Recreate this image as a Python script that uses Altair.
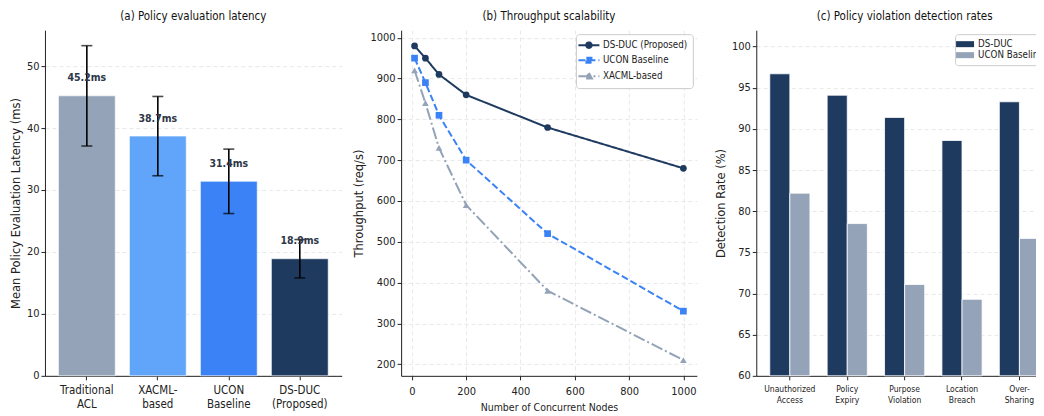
import altair as alt
import pandas as pd

# ---------------- data ----------------
# (a) Policy evaluation latency
lat_methods = ["Traditional\nACL", "XACML-\nbased", "UCON\nBaseline", "DS-DUC\n(Proposed)"]
lat_mean = [45.2, 38.7, 31.4, 18.9]
lat_err = [8.1, 6.4, 5.2, 3.1]

# (b) Throughput scalability
nodes = [10, 50, 100, 200, 500, 1000]
tp_series = ["DS-DUC (Proposed)", "UCON Baseline", "XACML-based"]
tp_dsduc = [980, 950, 910, 860, 780, 680]
tp_ucon = [950, 890, 810, 700, 520, 330]
tp_xacml = [920, 840, 730, 590, 380, 210]

# (c) Policy violation detection rates
violations = ["Unauthorized\nAccess", "Policy\nExpiry", "Purpose\nViolation",
              "Location\nBreach", "Over-\nSharing"]
det_series = ["DS-DUC", "UCON Baseline"]
det_dsduc = [96.7, 94.1, 91.4, 88.6, 93.3]
det_ucon = [82.2, 78.5, 71.1, 69.3, 76.7]

# ---------------- styles ----------------
NAVY = "#1e3a5f"
lat_colors = ["#94a3b8", "#60a5fa", "#3b82f6", NAVY]
tp_colors = [NAVY, "#3b82f6", "#94a3b8"]
tp_dashes = [[1, 0], [7, 3], [12, 3, 2, 3]]
tp_shapes = ["circle", "square", "triangle-up"]
tp_legend_paths = [
    "M-2.1,0H2.1M-0.55,0A0.55,0.55,0,1,1,0.55,0A0.55,0.55,0,1,1,-0.55,0Z",
    "M-2.1,0H2.1M-0.5,-0.5H0.5V0.5H-0.5Z",
    "M-2.1,0H2.1M0,-0.65L0.6,0.45L-0.6,0.45Z",
]
det_colors = [NAVY, "#94a3b8"]

COND = "DejaVu Sans Condensed, Liberation Sans Narrow, DejaVu Sans, sans-serif"
REG = "DejaVu Sans, sans-serif"
H = 346

df_a = pd.DataFrame({"method": lat_methods, "mean": lat_mean, "err": lat_err})

rows = []
for s, vals in zip(tp_series, [tp_dsduc, tp_ucon, tp_xacml]):
    for n, v in zip(nodes, vals):
        rows.append({"series": s, "nodes": n, "tp": v})
df_b = pd.DataFrame(rows)

rows = []
for s, vals in zip(det_series, [det_dsduc, det_ucon]):
    for cat, v in zip(violations, vals):
        rows.append({"method": s, "violation": cat, "rate": v})
df_c = pd.DataFrame(rows)

# ---------------- panel (a) ----------------
x_a = alt.X("method:N", sort=lat_methods, title=None,
            scale=alt.Scale(paddingInner=0.2, paddingOuter=0.19),
            axis=alt.Axis(labelAngle=0, labelExpr="split(datum.value, '\\n')",
                          labelFontSize=11.5, labelLineHeight=14, grid=False,
                          labelPadding=5))
y_a = alt.Y("mean:Q", title="Mean Policy Evaluation Latency (ms)",
            scale=alt.Scale(domain=[0, 55.8], nice=False),
            axis=alt.Axis(values=[0, 10, 20, 30, 40, 50], grid=True))

base_a = alt.Chart(df_a).transform_calculate(
    lo="datum.mean - datum.err", hi="datum.mean + datum.err",
    ly="datum.mean + 2", label="format(datum.mean, '.1f') + 'ms'")

bars_a = base_a.mark_bar(stroke="white", strokeWidth=0.6).encode(
    x=x_a, y=y_a,
    color=alt.Color("method:N", scale=alt.Scale(domain=lat_methods, range=lat_colors), legend=None))
err_a = base_a.mark_rule(color="black", strokeWidth=1.6).encode(
    x=x_a, y="lo:Q", y2="hi:Q")
cap_lo = base_a.mark_tick(color="black", thickness=1.6, size=11, orient="horizontal").encode(x=x_a, y="lo:Q")
cap_hi = base_a.mark_tick(color="black", thickness=1.6, size=11, orient="horizontal").encode(x=x_a, y="hi:Q")
txt_a = base_a.mark_text(fontWeight="bold", baseline="bottom", fontSize=10.5,
                         color="#2d3748", font=COND).encode(x=x_a, y="ly:Q", text="label:N")

panel_a = alt.layer(bars_a, err_a, cap_lo, cap_hi, txt_a).properties(
    width=297, height=H, title="(a) Policy evaluation latency")

# ---------------- panel (b) ----------------
def sel_expr(values, quote=True):
    parts = []
    for s, v in zip(tp_series[:-1], values[:-1]):
        vv = f"'{v}'" if quote else str(v)
        parts.append(f"datum.value === '{s}' ? {vv} : ")
    last = f"'{values[-1]}'" if quote else str(values[-1])
    return "".join(parts) + last

shape_expr = sel_expr(tp_legend_paths)
color_expr = sel_expr(tp_colors)
dash_expr = sel_expr(tp_dashes, quote=False)

x_b = alt.X("nodes:Q", title="Number of Concurrent Nodes",
            scale=alt.Scale(domain=[-39.5, 1049.5], nice=False, zero=False),
            axis=alt.Axis(values=[0, 200, 400, 600, 800, 1000], grid=True, format="d",
                          labelPadding=6, titlePadding=6))
y_b = alt.Y("tp:Q", title="Throughput (req/s)",
            scale=alt.Scale(domain=[171.5, 1018.5], nice=False, zero=False),
            axis=alt.Axis(values=[200, 300, 400, 500, 600, 700, 800, 900, 1000], grid=True, format="d"))

legend_b = alt.Legend(
    title=None, orient="top-right", offset=4, fillColor="white", strokeColor="#cccccc",
    cornerRadius=3, padding=5, labelFontSize=9.7, labelFont=COND, labelColor="#222",
    symbolSize=100, symbolStrokeWidth=2, symbolOffset=2, labelOffset=8, rowPadding=1,
    symbolType={"expr": shape_expr},
    symbolFillColor={"expr": color_expr},
    symbolStrokeColor={"expr": color_expr},
    symbolDash={"expr": dash_expr},
    symbolOpacity=1)

lines_b = alt.Chart(df_b).mark_line(strokeWidth=2).encode(
    x=x_b, y=y_b,
    color=alt.Color("series:N", sort=tp_series,
                    scale=alt.Scale(domain=tp_series, range=tp_colors), legend=legend_b),
    strokeDash=alt.StrokeDash("series:N", scale=alt.Scale(domain=tp_series, range=tp_dashes), legend=None))

pt_layers = []
for s, col, shp in zip(tp_series, tp_colors, tp_shapes):
    pt_layers.append(
        alt.Chart(df_b).transform_filter(alt.datum.series == s).mark_point(
            filled=True, opacity=1, size=45, shape=shp, color=col).encode(x=x_b, y=y_b))

panel_b = alt.layer(lines_b, *pt_layers).properties(
    width=296, height=H, title="(b) Throughput scalability")

# ---------------- panel (c) ----------------
legend_c = alt.Legend(
    title=None, orient="top-right", offset=4, fillColor="white", strokeColor="#cccccc",
    cornerRadius=3, padding=5, labelFontSize=9.7, labelFont=COND, labelColor="#222",
    symbolSize=100, symbolType="M-1.8,-0.6H1.8V0.6H-1.8Z", symbolOffset=0, labelOffset=8,
    rowPadding=1, symbolStrokeWidth=0)

bars_c = alt.Chart(df_c).mark_bar(stroke="white", strokeWidth=0.8).encode(
    x=alt.X("violation:N", sort=violations, title=None,
            scale=alt.Scale(paddingInner=0.3, paddingOuter=0.235),
            axis=alt.Axis(labelAngle=0, labelExpr="split(datum.value, '\\n')",
                          labelFontSize=8.5, labelLineHeight=11, grid=False, labelPadding=5)),
    xOffset=alt.XOffset("method:N", sort=det_series,
                        scale=alt.Scale(paddingInner=0, paddingOuter=0)),
    y=alt.Y("rate:Q", title="Detection Rate (%)",
            scale=alt.Scale(domain=[60, 102], nice=False, zero=False),
            axis=alt.Axis(values=[60, 65, 70, 75, 80, 85, 90, 95, 100], grid=True)),
    y2=alt.datum(60),
    color=alt.Color("method:N", sort=det_series,
                    scale=alt.Scale(domain=det_series, range=det_colors), legend=legend_c))

panel_c = bars_c.properties(width=297, height=H, title="(c) Policy violation detection rates")

chart = alt.hconcat(panel_a, panel_b, panel_c, spacing=59.5, bounds="flush").resolve_scale(
    color="independent", shape="independent", strokeDash="independent"
).resolve_legend(color="independent").properties(
    padding={"left": 2, "top": 2, "right": -17, "bottom": 0}
).configure(font=COND).configure_view(stroke=None).configure_axis(
    domainColor="#222", tickColor="#222", labelColor="#222", titleColor="#222",
    gridColor="#e2e2e2", gridDash=[4, 3], gridWidth=0.8, tickSize=4, labelFontSize=11,
    labelFont=COND, titleFont=COND, titleFontWeight="normal", domainWidth=1,
    labelPadding=2, titlePadding=5
).configure_axisY(titleFont=REG, titleFontSize=11.5).configure_axisX(
    titleFontSize=10.5
).configure_title(fontSize=11.5, fontWeight="normal", font=COND, color="#111", offset=8)

chart.save("out.html", embed_options={"renderer": "svg", "actions": False})
